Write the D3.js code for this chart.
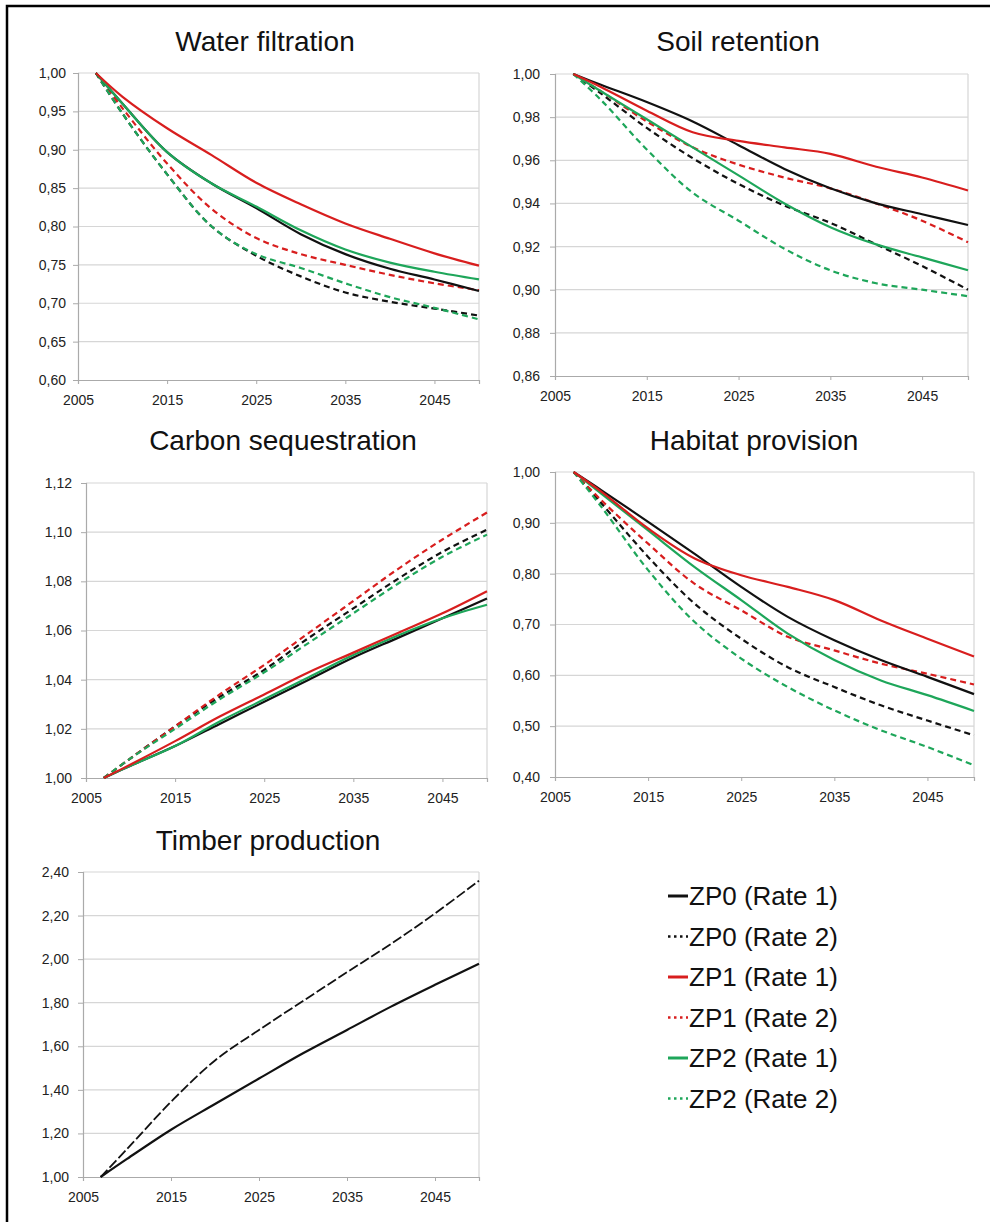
<!DOCTYPE html>
<html><head><meta charset="utf-8">
<script src="https://cdn.jsdelivr.net/npm/d3@7"></script>
<style>body{margin:0;background:#fff}svg{display:block;font-family:"Liberation Sans",Arial,sans-serif}</style>
</head><body><svg id="c" width="990" height="1222"></svg>
<script>
// ---------- DATA ----------
const years = [2007, 2010, 2015, 2020, 2025, 2030, 2035, 2040, 2045, 2050];
const xTickYears = [2005, 2015, 2025, 2035, 2045];
const seriesNames = ["ZP0 (Rate 1)", "ZP0 (Rate 2)", "ZP1 (Rate 1)", "ZP1 (Rate 2)", "ZP2 (Rate 1)", "ZP2 (Rate 2)"];
const panelTitles = ["Water filtration", "Soil retention", "Carbon sequestration", "Habitat provision", "Timber production"];

// Water filtration
const waterZP0R1 = [1.000, 0.960, 0.897, 0.856, 0.824, 0.790, 0.764, 0.745, 0.731, 0.716];
const waterZP0R2 = [1.000, 0.947, 0.868, 0.800, 0.762, 0.735, 0.714, 0.702, 0.693, 0.684];
const waterZP1R1 = [1.000, 0.969, 0.928, 0.893, 0.857, 0.829, 0.804, 0.784, 0.765, 0.749];
const waterZP1R2 = [1.000, 0.954, 0.882, 0.823, 0.785, 0.764, 0.750, 0.737, 0.726, 0.717];
const waterZP2R1 = [1.000, 0.960, 0.897, 0.856, 0.826, 0.795, 0.770, 0.753, 0.741, 0.731];
const waterZP2R2 = [1.000, 0.947, 0.868, 0.800, 0.764, 0.746, 0.726, 0.708, 0.694, 0.679];
const waterTicks = [0.60, 0.65, 0.70, 0.75, 0.80, 0.85, 0.90, 0.95, 1.00];

// Soil retention
const soilZP0R1 = [1.000, 0.995, 0.987, 0.978, 0.967, 0.956, 0.947, 0.940, 0.935, 0.930];
const soilZP0R2 = [1.000, 0.991, 0.975, 0.961, 0.949, 0.939, 0.931, 0.921, 0.911, 0.900];
const soilZP1R1 = [1.000, 0.994, 0.983, 0.973, 0.969, 0.966, 0.963, 0.957, 0.952, 0.946];
const soilZP1R2 = [1.000, 0.992, 0.978, 0.966, 0.958, 0.952, 0.947, 0.940, 0.932, 0.922];
const soilZP2R1 = [1.000, 0.992, 0.979, 0.966, 0.953, 0.940, 0.929, 0.921, 0.915, 0.909];
const soilZP2R2 = [1.000, 0.988, 0.965, 0.945, 0.932, 0.919, 0.909, 0.903, 0.900, 0.897];
const soilTicks = [0.86, 0.88, 0.90, 0.92, 0.94, 0.96, 0.98, 1.00];

// Carbon sequestration
const carbonZP0R1 = [1.000, 1.005, 1.013, 1.022, 1.031, 1.040, 1.049, 1.057, 1.065, 1.073];
const carbonZP0R2 = [1.000, 1.008, 1.021, 1.033, 1.044, 1.057, 1.069, 1.081, 1.092, 1.101];
const carbonZP1R1 = [1.000, 1.0055, 1.015, 1.025, 1.034, 1.043, 1.051, 1.059, 1.067, 1.076];
const carbonZP1R2 = [1.000, 1.008, 1.021, 1.034, 1.046, 1.059, 1.072, 1.085, 1.097, 1.108];
const carbonZP2R1 = [1.000, 1.005, 1.013, 1.023, 1.032, 1.041, 1.050, 1.058, 1.065, 1.0705];
const carbonZP2R2 = [1.000, 1.008, 1.020, 1.032, 1.043, 1.055, 1.067, 1.079, 1.090, 1.099];
const carbonTicks = [1.00, 1.02, 1.04, 1.06, 1.08, 1.10, 1.12];

// Habitat provision
const habitatZP0R1 = [1.000, 0.964, 0.902, 0.839, 0.774, 0.715, 0.669, 0.630, 0.597, 0.563];
const habitatZP0R2 = [1.000, 0.938, 0.833, 0.741, 0.672, 0.616, 0.577, 0.541, 0.511, 0.482];
const habitatZP1R1 = [1.000, 0.961, 0.889, 0.830, 0.797, 0.774, 0.748, 0.708, 0.672, 0.637];
const habitatZP1R2 = [1.000, 0.944, 0.859, 0.780, 0.728, 0.676, 0.649, 0.623, 0.603, 0.582];
const habitatZP2R1 = [1.000, 0.957, 0.885, 0.813, 0.748, 0.682, 0.630, 0.590, 0.561, 0.530];
const habitatZP2R2 = [1.000, 0.931, 0.807, 0.705, 0.633, 0.577, 0.531, 0.492, 0.459, 0.423];
const habitatTicks = [0.40, 0.50, 0.60, 0.70, 0.80, 0.90, 1.00];

// Timber production (ZP0 only)
const timberZP0R1 = [1.000, 1.083, 1.217, 1.335, 1.452, 1.568, 1.675, 1.782, 1.882, 1.979];
const timberZP0R2 = [1.000, 1.128, 1.345, 1.535, 1.675, 1.808, 1.940, 2.070, 2.210, 2.360];
const timberTicks = [1.00, 1.20, 1.40, 1.60, 1.80, 2.00, 2.20, 2.40];

// ---------- STYLE ----------
const colors = {ZP0: "#111111", ZP1: "#d81e1e", ZP2: "#1ea65a"};
const styleOf = i => ({color: colors["ZP" + Math.floor(i / 2)], dashed: i % 2 === 1});

const svg = d3.select("#c");
svg.append("rect").attr("width", 990).attr("height", 1222).attr("fill", "#fff");
svg.append("rect").attr("x", 7).attr("y", 6).attr("width", 1100).attr("height", 1400)
  .attr("fill", "none").attr("stroke", "#000").attr("stroke-width", 2.5);

const panels = [
  {title: panelTitles[0], series: [waterZP0R1, waterZP0R2, waterZP1R1, waterZP1R2, waterZP2R1, waterZP2R2], ticks: waterTicks, box: [78, 479, 73, 380], tx: 265, ty: 51, lblPad: 7},
  {title: panelTitles[1], series: [soilZP0R1, soilZP0R2, soilZP1R1, soilZP1R2, soilZP2R1, soilZP2R2], ticks: soilTicks, box: [555, 968, 74, 376], tx: 738, ty: 51, lblPad: 10},
  {title: panelTitles[2], series: [carbonZP0R1, carbonZP0R2, carbonZP1R1, carbonZP1R2, carbonZP2R1, carbonZP2R2], ticks: carbonTicks, box: [86, 487, 483, 778], tx: 283, ty: 450, lblPad: 9},
  {title: panelTitles[3], series: [habitatZP0R1, habitatZP0R2, habitatZP1R1, habitatZP1R2, habitatZP2R1, habitatZP2R2], ticks: habitatTicks, box: [555, 974, 472, 777], tx: 754, ty: 450, lblPad: 10},
  {title: panelTitles[4], series: [timberZP0R1, timberZP0R2], ticks: timberTicks, box: [83, 479, 872, 1177], tx: 268, ty: 850, lblPad: 9, timber: true}
];

const fmt = v => d3.format(".2f")(v).replace(".", ",");

panels.forEach(p => {
  const [x0, x1, y0, y1] = p.box;
  const x = d3.scaleLinear().domain([2005, 2050]).range([x0, x1]);
  const y = d3.scaleLinear().domain([p.ticks[0], p.ticks[p.ticks.length - 1]]).range([y1, y0]);
  const g = svg.append("g");

  g.append("text").attr("x", p.tx).attr("y", p.ty).attr("text-anchor", "middle")
    .attr("font-size", 28).attr("fill", "#111").text(p.title);

  // gridlines
  g.append("g").selectAll("line").data(p.ticks.slice(1)).join("line")
    .attr("x1", x0).attr("x2", x1).attr("y1", d => y(d)).attr("y2", d => y(d))
    .attr("stroke", "#d6d6d6").attr("stroke-width", 1.2);
  // right border
  g.append("line").attr("x1", x1).attr("x2", x1).attr("y1", y0).attr("y2", y1)
    .attr("stroke", "#d6d6d6").attr("stroke-width", 1.2);

  const ya = g.append("g").attr("transform", `translate(${x0},0)`)
    .call(d3.axisLeft(y).tickValues(p.ticks).tickSize(5).tickPadding(p.lblPad).tickFormat(fmt));
  const xa = g.append("g").attr("transform", `translate(0,${y1})`)
    .call(d3.axisBottom(x).tickValues(xTickYears).tickSize(4).tickPadding(11).tickFormat(d3.format("d")));
  [ya, xa].forEach(a => {
    a.attr("font-size", 14).attr("font-family", '"Liberation Sans",Arial,sans-serif');
    a.select(".domain").attr("stroke", "#aaaaaa").attr("stroke-width", 1.2);
    a.selectAll(".tick line").attr("stroke", "#aaaaaa");
    a.selectAll("text").attr("font-size", 14).attr("fill", "#222");
  });

  const line = d3.line().x((d, i) => x(years[i])).y(d => y(d)).curve(d3.curveCatmullRom.alpha(0.5));
  const order = p.timber ? [1, 0] : [1, 3, 5, 0, 4, 2];
  order.forEach(i => {
    const s = p.series[i];
    if (!s) return;
    const st = p.timber ? {color: "#111", dashed: i === 1} : styleOf(i);
    g.append("path").attr("d", line(s)).attr("fill", "none")
      .attr("stroke", st.color)
      .attr("stroke-width", p.timber ? (st.dashed ? 1.8 : 2.2) : 2.2)
      .attr("stroke-dasharray", st.dashed ? (p.timber ? "10,3" : "6,4") : null);
  });
});

// ---------- LEGEND ----------
const lg = svg.append("g");
seriesNames.forEach((name, i) => {
  const st = styleOf(i);
  const by = 905 + i * 40.5;
  lg.append("line").attr("x1", 668).attr("x2", 688).attr("y1", by - 9).attr("y2", by - 9)
    .attr("stroke", st.color).attr("stroke-width", st.dashed ? 2.5 : 3)
    .attr("stroke-dasharray", st.dashed ? "2.5,3.5" : null);
  lg.append("text").attr("x", 689).attr("y", by).attr("font-size", 26).attr("fill", "#111").text(name);
});
</script></body></html>
